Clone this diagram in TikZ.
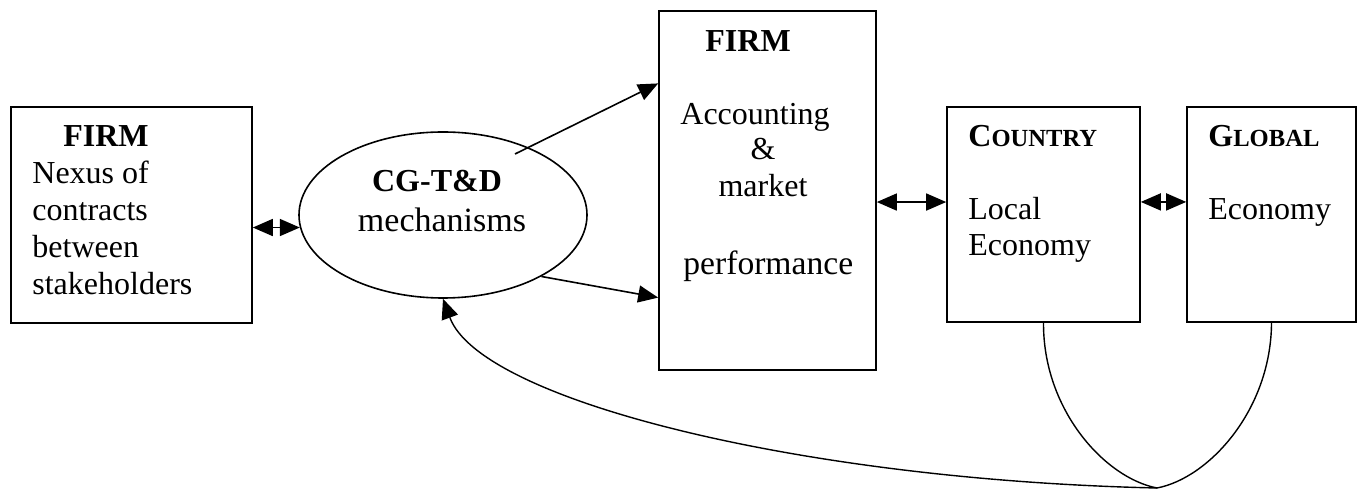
\documentclass[tikz,border=0pt]{standalone}
\usepackage{fontspec}
\setmainfont{Liberation Serif}
\usetikzlibrary{arrows.meta,shapes.geometric,calc}
\newcommand{\myscB}[2]{{\bfseries\fontsize{16}{18}\selectfont #1\fontsize{12.3}{14}\selectfont #2}}
\tikzset{
  box/.style={draw, line width=0.8pt, rectangle, inner sep=0pt},
  txt/.style={inner sep=0pt, anchor=base west, font=\fontsize{16}{18.5}\selectfont},
  ctxt/.style={inner sep=0pt, anchor=base, font=\fontsize{16}{18.5}\selectfont},
  bigtxt/.style={inner sep=0pt, anchor=base west, font=\fontsize{16.8}{19}\selectfont},
  tipshape/.tip={Triangle[length=10pt,width=8.5pt]},
  arr/.style={-tipshape, line width=0.8pt},
  dbl/.style={tipshape-tipshape, line width=0.8pt},
  curve/.style={line width=0.7pt},
}
\begin{document}
\begin{tikzpicture}[x=0.5pt, y=-0.5pt]
\useasboundingbox (0,0) rectangle (1363,490);

% boxes
\node[box, minimum width=120.5pt, minimum height=108pt] (lb) at (131.5,215) {};
\node[draw, line width=0.8pt, ellipse, inner sep=0pt, minimum width=144pt, minimum height=83pt] (ell) at (443,215) {};
\node[box, minimum width=108.5pt, minimum height=179.5pt] (mb) at (767.5,190.5) {};
\node[box, minimum width=96.5pt, minimum height=107.5pt] (cb) at (1043.5,214.5) {};
\node[box, minimum width=84.5pt, minimum height=107.5pt] (gb) at (1271.5,214.5) {};

% left box text
\node[ctxt, font=\bfseries\fontsize{16}{18.5}\selectfont] (lt0) at (106,147) {FIRM};
\node[txt] (lt1) at (32,184) {Nexus of};
\node[txt] (lt2) at (32,221) {contracts};
\node[txt] (lt3) at (32,258) {between};
\node[txt] (lt4) at (32,295) {stakeholders};

% ellipse text
\node[ctxt, font=\bfseries\fontsize{16}{18.5}\selectfont] (et0) at (437,192) {CG-T\&D};
\node[ctxt, font=\fontsize{17}{19}\selectfont] (et1) at (442,232) {mechanisms};

% middle box text
\node[txt, font=\bfseries\fontsize{16}{18.5}\selectfont] (mt0) at (705,52) {FIRM};
\node[txt] (mt1) at (680,125) {Accounting};
\node[ctxt] (mt2) at (763,160) {\&};
\node[ctxt] (mt3) at (763,197) {market};
\node[bigtxt] (mt4) at (683,275) {performance};

% country box text
\node[txt] (ct0) at (968,147) {\myscB{C}{OUNTRY}};
\node[txt] (ct1) at (968,220) {Local};
\node[txt] (ct2) at (968,256) {Economy};

% global box text
\node[txt] (gt0) at (1208,147) {\myscB{G}{LOBAL}};
\node[txt] (gt1) at (1208,220) {Economy};

% connectors
\draw[dbl] (ell.185 -| lb.east) -- (ell.185);

\coordinate (u1) at (515,154);
\draw[arr] (u1) -- ($(mb.north west)!0.203!(mb.south west)$);
\draw[arr] (ell.-32) -- ($(mb.north west)!0.797!(mb.south west)$);

\coordinate (m1) at ($(mb.north east)!0.532!(mb.south east)$);
\draw[dbl] (m1) -- (m1 -| cb.west);

\coordinate (c1) at ($(cb.north east)!0.442!(cb.south east)$);
\draw[dbl] (c1) -- (c1 -| gb.west);

\coordinate (lp) at (1157,488);
\draw[curve] (cb.south) .. controls (1043,410) and (1105,478) .. (lp)
  .. controls (1209,478) and (1271,410) .. (gb.south);
\draw[curve, -tipshape] (lp) .. controls (800,480) and (480,400) .. (ell.south);
\end{tikzpicture}
\end{document}
